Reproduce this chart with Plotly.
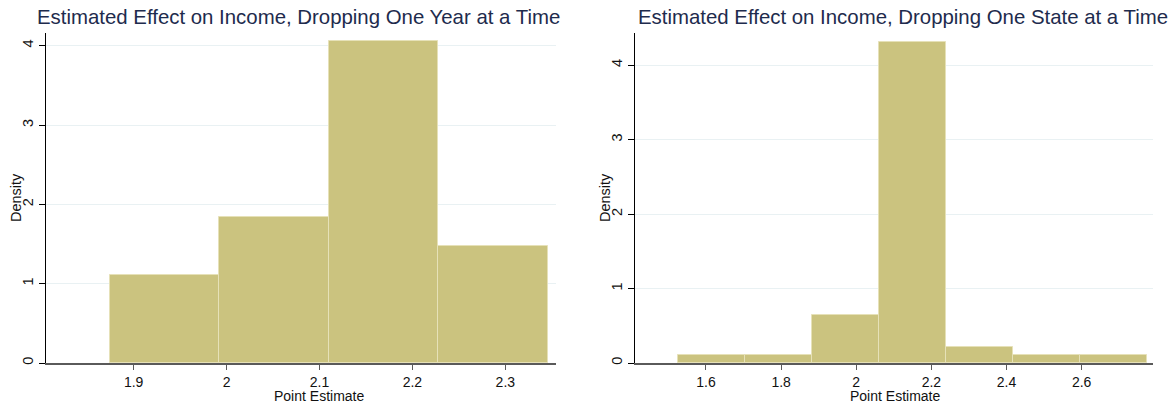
import plotly.graph_objects as go

# ---------------- data ----------------
year_edges = [1.8745, 1.9923, 2.1101, 2.2279, 2.3457]
year_density = [1.107, 1.845, 4.060, 1.476]

state_edges = [1.5255, 1.7038, 1.8821, 2.0604, 2.2387, 2.4170, 2.5953, 2.7736]
state_density = [0.108, 0.108, 0.647, 4.314, 0.216, 0.108, 0.108]

year_ticks = [1.9, 2.0, 2.1, 2.2, 2.3]
year_tick_labels = ["1.9", "2", "2.1", "2.2", "2.3"]
state_ticks = [1.6, 1.8, 2.0, 2.2, 2.4, 2.6]
state_tick_labels = ["1.6", "1.8", "2", "2.2", "2.4", "2.6"]
y_ticks = [0, 1, 2, 3, 4]
y_tick_labels = ["0", "1", "2", "3", "4"]

title_left = "Estimated Effect on Income, Dropping One Year at a Time"
title_right = "Estimated Effect on Income, Dropping One State at a Time"
x_title = "Point Estimate"
y_title = "Density"

# ---------------- style ----------------
W, H = 1175, 406
FONT = "Liberation Sans, Arial, Helvetica, sans-serif"
BAR = "#CBC37F"
BAR_LINE = "#E6E1B8"
GRID = "#E9F1F3"
TITLE_C = "#1E2B4D"
TXT = "#111111"


def centers(edges):
    return [(a + b) / 2 for a, b in zip(edges[:-1], edges[1:])]


def widths(edges):
    return [b - a for a, b in zip(edges[:-1], edges[1:])]


fig = go.Figure()
fig.add_trace(go.Bar(x=centers(year_edges), y=year_density, width=widths(year_edges),
                     marker=dict(color=BAR, line=dict(color=BAR_LINE, width=1)),
                     xaxis="x", yaxis="y", showlegend=False, hoverinfo="skip"))
fig.add_trace(go.Bar(x=centers(state_edges), y=state_density, width=widths(state_edges),
                     marker=dict(color=BAR, line=dict(color=BAR_LINE, width=1)),
                     xaxis="x2", yaxis="y2", showlegend=False, hoverinfo="skip"))

px = lambda v: v / W
py = lambda v: 1 - v / H

ydom = [py(363), py(33)]

xcommon = dict(showgrid=False, zeroline=False, showline=True, linecolor="#5a5a5a", linewidth=1.5,
               ticks="outside", ticklen=5, tickcolor="#5a5a5a", tickwidth=1,
               tickfont=dict(family=FONT, size=14, color=TXT), automargin=False)
ycommon = dict(showgrid=True, gridcolor=GRID, gridwidth=1, zeroline=False, showline=True,
               linecolor="#000000", linewidth=1, ticks="outside", ticklen=6, tickcolor="#000000",
               tickangle=-90, tickvals=y_ticks, ticktext=y_tick_labels,
               tickfont=dict(family=FONT, size=14.5, color=TXT), automargin=False,
               domain=ydom)

fig.update_layout(
    width=W, height=H,
    margin=dict(l=0, r=0, t=0, b=0),
    paper_bgcolor="white", plot_bgcolor="white",
    bargap=0,
    xaxis=dict(domain=[px(46), px(556)], range=[1.8057, 2.3545],
               tickvals=year_ticks, ticktext=year_tick_labels, anchor="y", **xcommon),
    yaxis=dict(range=[0, 4.16], anchor="x", **ycommon),
    xaxis2=dict(domain=[px(635), px(1153)], range=[1.411, 2.790],
                tickvals=state_ticks, ticktext=state_tick_labels, anchor="y2", **xcommon),
    yaxis2=dict(range=[0, 4.43], anchor="x2", **ycommon),
)

ann = []
ann.append(dict(text=title_left, x=px(298), y=py(17), xref="paper", yref="paper",
                showarrow=False, font=dict(family=FONT, size=20.4, color=TITLE_C),
                xanchor="center", yanchor="middle"))
ann.append(dict(text=title_right, x=px(903), y=py(17), xref="paper", yref="paper",
                showarrow=False, font=dict(family=FONT, size=20.4, color=TITLE_C),
                xanchor="center", yanchor="middle"))
ann.append(dict(text=x_title, x=px(319), y=py(396), xref="paper", yref="paper",
                showarrow=False, font=dict(family=FONT, size=14, color=TXT),
                xanchor="center", yanchor="middle"))
ann.append(dict(text=x_title, x=px(895), y=py(396), xref="paper", yref="paper",
                showarrow=False, font=dict(family=FONT, size=14, color=TXT),
                xanchor="center", yanchor="middle"))
ann.append(dict(text=y_title, x=px(16), y=py(198), xref="paper", yref="paper", textangle=-90,
                showarrow=False, font=dict(family=FONT, size=14.5, color=TXT),
                xanchor="center", yanchor="middle"))
ann.append(dict(text=y_title, x=px(605), y=py(198), xref="paper", yref="paper", textangle=-90,
                showarrow=False, font=dict(family=FONT, size=14.5, color=TXT),
                xanchor="center", yanchor="middle"))
fig.update_layout(annotations=ann)

fig.write_html("out.html", config={"displayModeBar": False},
               post_script="document.body.style.margin='0px';document.body.style.overflow='hidden';")
